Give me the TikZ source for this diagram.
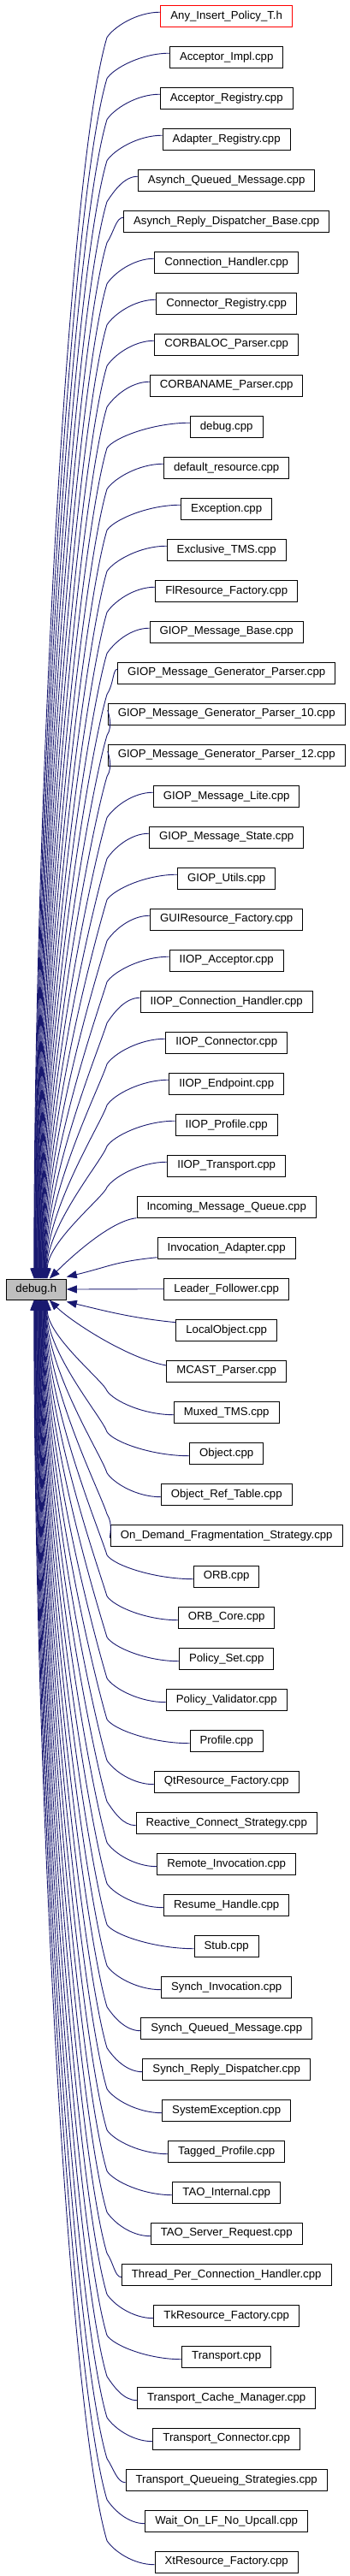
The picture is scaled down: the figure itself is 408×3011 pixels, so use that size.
\documentclass[tikz,border=0pt]{standalone}
\usepackage{fontspec}
\setmainfont{Liberation Sans}
\usetikzlibrary{arrows.meta,calc}
\definecolor{edgeblue}{HTML}{191970}
\begin{document}
\begin{tikzpicture}[x=1pt,y=-1pt,
  filebox/.style={draw=black, line width=1pt, fill=white, inner xsep=11.5pt, inner ysep=0pt,
    minimum height=25pt, font=\fontsize{13.2}{15}\selectfont, anchor=center},
  edge/.style={draw=edgeblue, line width=0.9pt, -{Triangle[length=12pt,width=9pt]}},
]
\useasboundingbox (0,0) rectangle (408,3011);
\node[filebox, fill=gray!50, minimum width=70pt, minimum height=24pt, inner xsep=0pt] (debug) at (42.3,1507) {debug.h};
\node[filebox, draw=red] (n1) at (264.7,18.7) {Any\_Insert\_Policy\_T.h};
\foreach \t [count=\i from 2] in {Acceptor\_Impl.cpp, Acceptor\_Registry.cpp, Adapter\_Registry.cpp,
  Asynch\_Queued\_Message.cpp, Asynch\_Reply\_Dispatcher\_Base.cpp, Connection\_Handler.cpp,
  Connector\_Registry.cpp, CORBALOC\_Parser.cpp, CORBANAME\_Parser.cpp, debug.cpp,
  default\_resource.cpp, Exception.cpp, Exclusive\_TMS.cpp, FlResource\_Factory.cpp,
  GIOP\_Message\_Base.cpp, GIOP\_Message\_Generator\_Parser.cpp, GIOP\_Message\_Generator\_Parser\_10.cpp,
  GIOP\_Message\_Generator\_Parser\_12.cpp, GIOP\_Message\_Lite.cpp, GIOP\_Message\_State.cpp,
  GIOP\_Utils.cpp, GUIResource\_Factory.cpp, IIOP\_Acceptor.cpp, IIOP\_Connection\_Handler.cpp,
  IIOP\_Connector.cpp, IIOP\_Endpoint.cpp, IIOP\_Profile.cpp, IIOP\_Transport.cpp,
  Incoming\_Message\_Queue.cpp, Invocation\_Adapter.cpp, Leader\_Follower.cpp, LocalObject.cpp,
  MCAST\_Parser.cpp, Muxed\_TMS.cpp, Object.cpp, Object\_Ref\_Table.cpp,
  On\_Demand\_Fragmentation\_Strategy.cpp, ORB.cpp, ORB\_Core.cpp, Policy\_Set.cpp,
  Policy\_Validator.cpp, Profile.cpp, QtResource\_Factory.cpp, Reactive\_Connect\_Strategy.cpp,
  Remote\_Invocation.cpp, Resume\_Handle.cpp, Stub.cpp, Synch\_Invocation.cpp,
  Synch\_Queued\_Message.cpp, Synch\_Reply\_Dispatcher.cpp, SystemException.cpp,
  Tagged\_Profile.cpp, TAO\_Internal.cpp, TAO\_Server\_Request.cpp,
  Thread\_Per\_Connection\_Handler.cpp, TkResource\_Factory.cpp, Transport.cpp,
  Transport\_Cache\_Manager.cpp, Transport\_Connector.cpp, Transport\_Queueing\_Strategies.cpp,
  Wait\_On\_LF\_No\_Upcall.cpp, XtResource\_Factory.cpp} {
  \pgfmathsetmacro\yc{18.7+(\i-1)*48}
  \node[filebox] (n\i) at (264.7,\yc) {\t};
}
% upper edges
\foreach \i in {1,...,29} {
  \pgfmathsetmacro\yc{18.7+(\i-1)*48}
  \pgfmathsetmacro\ky{\yc+25}
  \pgfmathsetmacro\ha{0.1*(1495-\ky)}
  \pgfmathsetmacro\hb{0.4*(1495-\ky)}
  \pgfmathsetmacro\ex{33+(\i-1)*0.55}
  \coordinate (s\i) at ($(n\i.west)+(0,-4.5)$);
  \coordinate (k\i) at (125,\ky);
  \coordinate (e\i) at ($(debug.north west)+(\ex,0)$);
  \draw[edge] (s\i) .. controls ($(s\i)!0.45!(k\i |- s\i)$) and ($(k\i)+(8,-12)$) .. (k\i)
    .. controls ($(k\i)+(-0.3*\ha,\ha)$) and ($(e\i)+(0,-\hb)$) .. (e\i);
}
% lower edges
\foreach \j in {35,...,63} {
  \pgfmathtruncatemacro\m{64-\j}
  \pgfmathsetmacro\yc{18.7+(\j-1)*48}
  \pgfmathsetmacro\ky{\yc-25}
  \pgfmathsetmacro\ha{0.1*(\ky-1519)}
  \pgfmathsetmacro\hb{0.4*(\ky-1519)}
  \pgfmathsetmacro\ex{33+(\m-1)*0.55}
  \coordinate (s\j) at ($(n\j.west)+(0,3)$);
  \coordinate (k\j) at (125,\ky);
  \coordinate (e\j) at ($(debug.south west)+(\ex,0)$);
  \draw[edge] (s\j) .. controls ($(s\j)!0.45!(k\j |- s\j)$) and ($(k\j)+(8,12)$) .. (k\j)
    .. controls ($(k\j)+(-0.3*\ha,-\ha)$) and ($(e\j)+(0,\hb)$) .. (e\j);
}
% near edges
\draw[edge] (n30.south west) .. controls +(-30,3) and +(25,-25) .. ($(debug.north west)+(51,0)$);
\draw[edge] ($(n31.west)+(0,11)$) .. controls +(-50,5) and +(50,-12) .. ($(debug.north east)+(0,-2)$);
\draw[edge] (n32.west) -- (debug.east);
\draw[edge] ($(n33.west)+(0,-9)$) .. controls +(-50,-5) and +(50,12) .. ($(debug.south east)+(0,2)$);
\draw[edge] ($(n34.west)+(0,-6.7)$) .. controls +(-45,-8) and +(25,25) .. ($(debug.south west)+(51,0)$);
\end{tikzpicture}
\end{document}
